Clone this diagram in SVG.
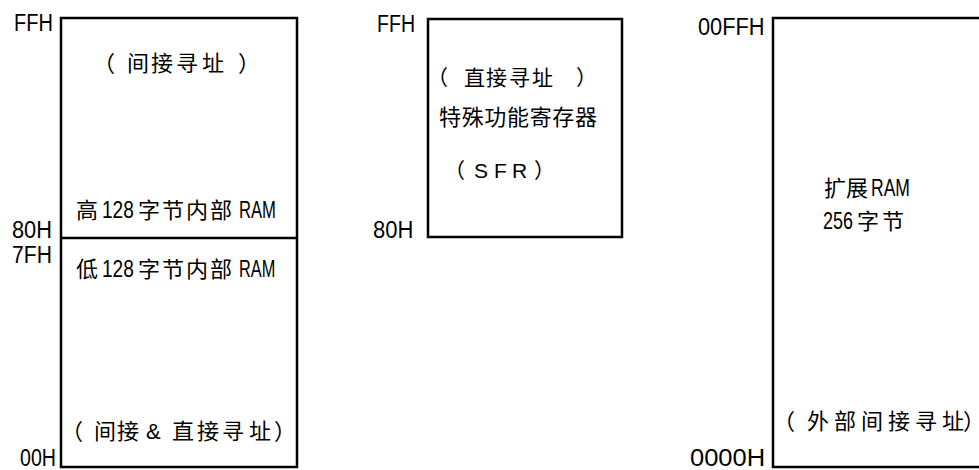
<svg xmlns="http://www.w3.org/2000/svg" width="979" height="470" viewBox="0 0 979 470">
<style>
.box{fill:none;stroke:#000;stroke-width:2.5}
.lbl{font-family:"Liberation Sans",sans-serif;font-size:22px;fill:#000}
.l{font-family:"Liberation Sans",sans-serif;font-size:23px;fill:#000}
.c{font-family:"Liberation Sans","Noto Sans CJK SC",sans-serif;font-size:22px;fill:#000}
.m{font-family:"Liberation Sans","Noto Sans CJK SC",sans-serif;font-size:21px;fill:#000}
</style>
<rect width="979" height="470" fill="#fff"/>
<g id="internal-ram">
<rect class="box" x="61" y="18" width="236" height="449"/>
<line class="box" x1="61" y1="238" x2="297" y2="238"/>
<text class="lbl" transform="translate(14,31) scale(0.91,1.1)">FFH</text>
<text class="lbl" transform="translate(12,238) scale(0.99,1.08)">80H</text>
<text class="lbl" transform="translate(12,263) scale(0.96,1.08)">7FH</text>
<text class="lbl" transform="translate(20,466) scale(0.89,1.08)">00H</text>
<text class="c" x="93 127 151 176 202 238" y="71">（间接寻址）</text>
<text class="c" x="76" y="218">高</text>
<text class="l" transform="translate(102,218) scale(0.83,1)">128</text>
<text class="c" x="138 162 186 210" y="218">字节内部</text>
<text class="l" transform="translate(239,218) scale(0.724,1)">RAM</text>
<text class="c" x="76" y="277">低</text>
<text class="l" transform="translate(102,277) scale(0.83,1)">128</text>
<text class="c" x="138 162 186 210" y="277">字节内部</text>
<text class="l" transform="translate(239,277) scale(0.71,1)">RAM</text>
<text class="c" x="61 94 117 146 160 172 197 222 249 274" y="439">（间接&amp; 直接寻址）</text>
</g>
<g id="sfr">
<rect class="box" x="428" y="19" width="194" height="218"/>
<text class="lbl" transform="translate(377,32) scale(0.89,1.08)">FFH</text>
<text class="lbl" transform="translate(373,238) scale(1.0,1.08)">80H</text>
<text class="m" x="427 464 486 509 532 576" y="85">（直接寻址）</text>
<text class="c" x="439" y="125" textLength="158" lengthAdjust="spacing">特殊功能寄存器</text>
<text class="m" x="444 474 494 512 534" y="178">（SFR）</text>
</g>
<g id="external-ram">
<rect class="box" x="773" y="18" width="300" height="449"/>
<text class="lbl" transform="translate(698,35) scale(0.99,1.08)">00FFH</text>
<text class="lbl" transform="translate(690,466) scale(1.16,1.08)">0000H</text>
<text class="c" x="824 846" y="196">扩展</text>
<text class="l" transform="translate(871,196) scale(0.763,1)">RAM</text>
<text class="l" transform="translate(823,229) scale(0.78,1)">256</text>
<text class="c" x="857 882" y="229">字节</text>
<text class="c" x="773 807 834 861 888 915 942 963" y="429" style="letter-spacing:-9px">（外部间接寻址）</text>
</g>
<g id="connectors"></g>
</svg>
